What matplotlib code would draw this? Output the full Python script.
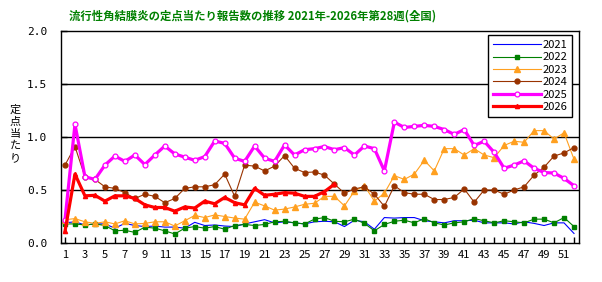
import matplotlib
matplotlib.use("Agg")
import matplotlib.pyplot as plt
import numpy as np

plt.rcParams['font.family'] = ['Noto Sans CJK JP', 'DejaVu Sans']

weeks = list(range(1, 53))

y2021 = [0.19, 0.20, 0.17, 0.18, 0.18, 0.14, 0.185, 0.165, 0.155, 0.16, 0.15, 0.15, 0.14,
         0.195, 0.165, 0.17, 0.16, 0.155, 0.18, 0.20, 0.22, 0.19, 0.20, 0.19, 0.18, 0.20,
         0.205, 0.20, 0.155, 0.215, 0.20, 0.13, 0.24, 0.235, 0.24, 0.24, 0.21, 0.20, 0.19,
         0.21, 0.21, 0.215, 0.19, 0.19, 0.19, 0.18, 0.20, 0.185, 0.165, 0.19, 0.19, 0.09]
y2022 = [0.18, 0.18, 0.17, 0.18, 0.165, 0.115, 0.12, 0.10, 0.15, 0.14, 0.115, 0.085, 0.14,
         0.155, 0.14, 0.155, 0.13, 0.165, 0.175, 0.165, 0.175, 0.20, 0.205, 0.19, 0.18, 0.225,
         0.24, 0.205, 0.20, 0.225, 0.185, 0.115, 0.175, 0.205, 0.215, 0.19, 0.23, 0.19, 0.17,
         0.19, 0.20, 0.23, 0.21, 0.19, 0.21, 0.20, 0.19, 0.225, 0.225, 0.19, 0.24, 0.155]
y2023 = [0.22, 0.23, 0.20, 0.185, 0.20, 0.18, 0.21, 0.18, 0.185, 0.20, 0.20, 0.16, 0.21,
         0.26, 0.24, 0.265, 0.25, 0.235, 0.225, 0.385, 0.35, 0.31, 0.32, 0.34, 0.365, 0.375,
         0.44, 0.44, 0.35, 0.49, 0.54, 0.395, 0.47, 0.635, 0.60, 0.65, 0.78, 0.68, 0.89,
         0.89, 0.83, 0.89, 0.83, 0.805, 0.92, 0.96, 0.95, 1.06, 1.06, 0.98, 1.04, 0.79]
y2024 = [0.735, 0.91, 0.625, 0.60, 0.53, 0.515, 0.475, 0.42, 0.46, 0.44, 0.38, 0.42, 0.515,
         0.53, 0.53, 0.55, 0.65, 0.44, 0.735, 0.725, 0.68, 0.725, 0.825, 0.705, 0.665, 0.67,
         0.64, 0.555, 0.47, 0.51, 0.53, 0.46, 0.345, 0.54, 0.475, 0.46, 0.46, 0.41, 0.41,
         0.43, 0.51, 0.385, 0.50, 0.50, 0.46, 0.50, 0.53, 0.64, 0.715, 0.82, 0.85, 0.90]
y2025 = [0.22, 1.12, 0.625, 0.60, 0.735, 0.82, 0.77, 0.83, 0.74, 0.83, 0.915, 0.84, 0.81,
         0.78, 0.815, 0.962, 0.94, 0.80, 0.77, 0.915, 0.80, 0.77, 0.925, 0.83, 0.88, 0.89,
         0.91, 0.88, 0.90, 0.83, 0.915, 0.89, 0.68, 1.14, 1.09, 1.10, 1.11, 1.10, 1.07,
         1.025, 1.07, 0.92, 0.96, 0.855, 0.705, 0.735, 0.775, 0.705, 0.665, 0.66, 0.61, 0.54]
y2026 = [0.11, 0.65, 0.445, 0.45, 0.395, 0.445, 0.445, 0.42, 0.36, 0.335, 0.335, 0.30, 0.34,
         0.33, 0.395, 0.37, 0.43, 0.38, 0.36, 0.515, 0.45, 0.46, 0.475, 0.47, 0.44, 0.44,
         0.485, 0.555]

series = [
    ("2021", y2021, dict(color="#0000ff", lw=0.8, marker=None)),
    ("2022", y2022, dict(color="#008000", lw=0.8, marker="s", ms=3)),
    ("2023", y2023, dict(color="#ffa020", lw=0.8, marker="^", ms=4)),
    ("2024", y2024, dict(color="#993300", lw=0.8, marker="o", ms=3.5)),
    ("2025", y2025, dict(color="#ff00ff", lw=2.3, marker="o", ms=3.5, mfc="white", mew=0.9)),
    ("2026", y2026, dict(color="#ff0000", lw=2.3, marker="^", ms=3)),
]

W, H = 602, 282
fig = plt.figure(figsize=(W / 100, H / 100), dpi=100)
ax = fig.add_axes([61 / W, 1 - 243 / H, 518 / W, 212 / H])

for name, vals, st in series:
    ax.plot(weeks[:len(vals)], vals, label=name, **st)

ax.set_xlim(0.6, 52.5)
ax.set_ylim(0, 2.0)
ax.set_yticks([0, 0.5, 1.0, 1.5, 2.0])
ax.set_yticklabels(["0.0", "0.5", "1.0", "1.5", "2.0"], fontsize=8, family="DejaVu Sans Mono")
ax.set_xticks(weeks)
ax.set_xticklabels([str(w) if w % 2 == 1 else "" for w in weeks], fontsize=8)
ax.tick_params(axis="both", direction="in", length=4, width=1, color="black", pad=5)
ax.tick_params(axis="y", pad=10)
for y in [0.5, 1.0, 1.5]:
    ax.axhline(y, color="black", lw=1, zorder=0.5)
for s in ax.spines.values():
    s.set_linewidth(1)
    s.set_color("black")

leg = ax.legend(loc="upper left", bbox_to_anchor=(488 / W, 1 - 35 / H),
                bbox_transform=fig.transFigure, fontsize=8, frameon=True,
                fancybox=False, edgecolor="black", framealpha=1,
                handlelength=4.3, labelspacing=0.22, borderpad=0.45, handletextpad=0.15,
                borderaxespad=0)
leg.get_frame().set_linewidth(1)

fig.text(253 / W, 1 - 16 / H, "流行性角結膜炎の定点当たり報告数の推移 2021年-2026年第28週(全国)",
         ha="center", va="center", fontsize=8.2, fontweight="bold", color="#008000")
for i, ch in enumerate("定点当たり"):
    fig.text(15 / W, 1 - (110 + i * 12) / H, ch, ha="center", va="center", fontsize=8)

fig.savefig("out.png", dpi=100)
